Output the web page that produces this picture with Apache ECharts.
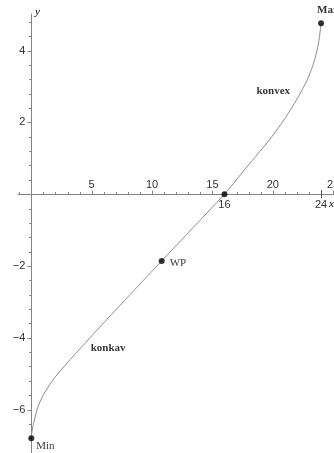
<!DOCTYPE html>
<html>
<head>
<meta charset="utf-8">
<script src="https://cdn.jsdelivr.net/npm/echarts@6/dist/echarts.min.js"></script>
<style>
  html, body { margin: 0; padding: 0; background: #fff; }
  #chart { width: 334px; height: 453px; }
</style>
</head>
<body>
<div id="chart"></div>
<script>
// Curve samples (x, y), from the minimum through the inflection point to the maximum
const curveX = [0, 0.05, 0.13, 0.30, 0.46, 0.71, 1.04, 1.46, 1.96, 2.54, 3.24, 4.11, 5.46, 7.78, 10.8, 13.4, 16,
                17.51, 18.90, 19.71, 20.64, 21.47, 22.34, 22.96, 23.46, 23.79, 23.94, 24];
const curveY = [-6.8, -6.65, -6.48, -6.23, -6.02, -5.79, -5.57, -5.34, -5.10, -4.87, -4.60, -4.28, -3.78, -2.94, -1.86, -0.93, 0,
                0.62, 1.18, 1.51, 1.93, 2.35, 2.85, 3.27, 3.74, 4.21, 4.58, 4.76];

// Marked points
const pointNames = ['Max', 'Min', 'WP', 'Nullstelle'];
const pointX = [24, 0, 10.8, 16];
const pointY = [4.76, -6.8, -1.86, 0];

// Axis ticks
const xTickLabels = [5, 10, 15, 20, 25];
const xMinorTicks = [-1, 1, 2, 3, 4, 6, 7, 8, 9, 11, 12, 13, 14, 16, 17, 18, 19, 21, 22, 23, 24];
const yTickLabels = [-6, -4, -2, 2, 4];
const yMinorTicks = [-7.2, -6.8, -6.4, -5.6, -5.2, -4.8, -4.4, -3.6, -3.2, -2.8, -2.4, -1.6, -1.2, -0.8, -0.4,
                     0.4, 0.8, 1.2, 1.6, 2.4, 2.8, 3.2, 3.6, 4.4, 4.8];

// Values written under the x axis
const xSpecial = [16, 24];

// Region annotations
const noteText = ['konvex', 'konkav'];
const noteX = [20.04, 6.36];
const noteY = [2.86, -4.29];

const AX = '#858585';
const TXT = '#333';
const SERIF = '"Liberation Serif", "DejaVu Serif", serif';
const SANS = '"Liberation Sans", Arial, sans-serif';

const xRange = { min: -1.1, max: 25.07 };
const yRange = { min: -7.21, max: 5.02 };

const crisp = v => Math.round(v) + 0.5;
const minusSign = v => (v < 0 ? '\u2212' + Math.abs(v) : String(v));

// Tick marks (and optional labels) drawn at data positions on the axes
function tickSeries(values, dir, len, withLabel) {
  return {
    type: 'custom',
    clip: false,
    silent: true,
    data: values.map(v => (dir === 'x' ? [v, 0] : [0, v])),
    renderItem: (params, api) => {
      const p = api.coord([api.value(0), api.value(1)]);
      const children = [];
      if (dir === 'x') {
        const x = crisp(p[0]);
        children.push({ type: 'line', shape: { x1: x, y1: crisp(p[1]), x2: x, y2: crisp(p[1]) - len },
          style: { stroke: AX, lineWidth: 1 } });
        if (withLabel) children.push({ type: 'text', style: { text: String(api.value(0)), x: p[0], y: p[1] - 9,
          align: 'center', verticalAlign: 'middle', font: '11px ' + SANS, fill: TXT } });
      } else {
        const y = crisp(p[1]);
        children.push({ type: 'line', shape: { x1: crisp(p[0]), y1: y, x2: crisp(p[0]) - len, y2: y },
          style: { stroke: AX, lineWidth: 1 } });
        if (withLabel) children.push({ type: 'text', style: { text: minusSign(api.value(1)), x: p[0] - 6, y: p[1],
          align: 'right', verticalAlign: 'middle', font: '11px ' + SANS, fill: TXT } });
      }
      return { type: 'group', children };
    },
    z: 2
  };
}

const chart = echarts.init(document.getElementById('chart'), null, { renderer: 'canvas' });

const option = {
  animation: false,
  grid: { left: 18, right: 0, top: 14, bottom: 0, containLabel: false, outerBoundsMode: 'none' },
  xAxis: {
    type: 'value', min: xRange.min, max: xRange.max,
    axisLine: { show: true, onZero: true, lineStyle: { color: AX, width: 1 } },
    axisTick: { show: false }, axisLabel: { show: false }, splitLine: { show: false }
  },
  yAxis: {
    type: 'value', min: yRange.min, max: yRange.max,
    axisLine: { show: true, onZero: true, lineStyle: { color: AX, width: 1 } },
    axisTick: { show: false }, axisLabel: { show: false }, splitLine: { show: false }
  },
  series: [
    tickSeries(xTickLabels, 'x', 4, true),
    tickSeries(xMinorTicks, 'x', 2.5, false),
    tickSeries(yTickLabels, 'y', 4, true),
    tickSeries(yMinorTicks, 'y', 2.5, false),
    {
      // long tick through the axis at the right end of the interval, with the values 16 and 24 below
      type: 'custom',
      clip: false,
      silent: true,
      data: xSpecial.map(v => [v, 0]),
      renderItem: (params, api) => {
        const v = api.value(0);
        const p = api.coord([v, 0]);
        const children = [{ type: 'text', style: { text: String(v), x: p[0], y: p[1] + 11,
          align: 'center', verticalAlign: 'middle', font: '11px ' + SANS, fill: TXT } }];
        if (v === xSpecial[1]) {
          const x = crisp(p[0]);
          children.push({ type: 'line', shape: { x1: x, y1: p[1] - 4, x2: x, y2: p[1] + 4 },
            style: { stroke: '#555', lineWidth: 1 } });
        }
        return { type: 'group', children };
      },
      z: 3
    },
    {
      type: 'line',
      data: curveX.map((x, i) => [x, curveY[i]]),
      smooth: 0.3,
      showSymbol: false,
      silent: true,
      lineStyle: { color: '#8e8e8e', width: 1 },
      z: 4
    },
    {
      type: 'scatter',
      data: pointX.map((x, i) => ({ name: pointNames[i], value: [x, pointY[i]] })),
      symbolSize: 6,
      itemStyle: { color: '#000' },
      label: {
        show: true, fontFamily: SERIF, fontSize: 11, color: '#000',
        formatter: p => (p.name === 'Nullstelle' ? '' : p.name)
      },
      z: 5
    },
    {
      type: 'scatter',
      data: noteX.map((x, i) => ({ name: noteText[i], value: [x, noteY[i]] })),
      symbolSize: 0,
      label: { show: true, position: 'inside', fontFamily: SERIF, fontSize: 11, fontWeight: 'bold', color: '#000',
        formatter: p => p.name },
      z: 5
    }
  ],
  graphic: [
    { type: 'text', left: 35, top: 7, style: { text: 'y', font: 'italic 11px ' + SERIF, fill: '#000' } },
    { type: 'text', left: 329, top: 199, style: { text: 'x', font: 'italic 11px ' + SERIF, fill: '#000' } }
  ]
};

// Label placement for the marked points
option.series[6].data.forEach(d => {
  if (d.name === 'Max') d.label = { position: 'top', align: 'left', offset: [-4, 0], fontWeight: 'bold' };
  else if (d.name === 'Min') d.label = { position: 'right', offset: [-3, 8] };
  else if (d.name === 'WP') d.label = { position: 'right', offset: [0, 2] };
});

chart.setOption(option);
</script>
</body>
</html>
